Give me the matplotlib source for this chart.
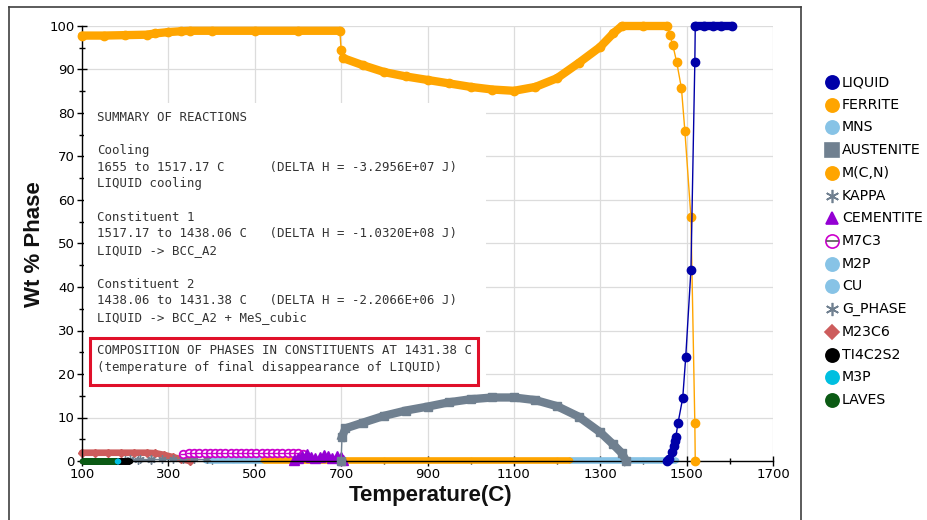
import numpy as np
import matplotlib
matplotlib.use("Agg")
import matplotlib.pyplot as plt
from matplotlib.lines import Line2D
from matplotlib.patches import Rectangle

# ---------------- data ----------------
ferrite_T = [100, 150, 200, 250, 270, 300, 330, 350, 400, 500, 600, 697,
             700, 705, 750, 800, 850, 900, 950, 1000, 1050, 1100,
             1150, 1200, 1250, 1300, 1330, 1350, 1400, 1455,
             1461, 1468, 1477, 1488, 1496, 1510, 1519, 1520]
ferrite_V = [97.8, 97.8, 97.9, 98.0, 98.3, 98.6, 98.8, 98.9, 98.9, 98.9, 98.9, 98.9,
             94.5, 92.6, 91.0, 89.4, 88.4, 87.6, 86.8, 86.0, 85.4, 85.1,
             86.0, 88.0, 91.5, 95.2, 98.3, 100.0, 100.0, 100.0,
             97.9, 95.6, 91.7, 85.7, 75.8, 56.0, 8.7, 0.0]

liquid_T = [1455, 1460, 1466, 1470, 1472, 1475, 1480, 1491, 1498, 1510, 1519,
            1520, 1540, 1560, 1580, 1605]
liquid_V = [0.0, 0.5, 2.0, 3.5, 4.5, 5.5, 8.7, 14.5, 24.0, 44.0, 91.7,
            100.0, 100.0, 100.0, 100.0, 100.0]

aust_T = [700, 702, 710, 750, 800, 850, 900, 950, 1000, 1050, 1100, 1150,
          1200, 1250, 1300, 1330, 1350, 1360]
aust_V = [0.0, 5.5, 7.5, 8.8, 10.4, 11.6, 12.5, 13.5, 14.2, 14.6, 14.6, 14.0,
          12.6, 10.2, 6.6, 3.8, 1.8, 0.0]

mcn_T = [520, 600, 700, 800, 900, 1000, 1100, 1200, 1230]
mcn_V = [0.15, 0.15, 0.15, 0.15, 0.15, 0.15, 0.15, 0.15, 0.15]

mns_T = [1228, 1300, 1400, 1475]
mns_V = [0.2, 0.2, 0.2, 0.2]

m2p_T = [385, 450, 520]
m2p_V = [0.2, 0.2, 0.2]

cem_T = [590, 600, 610, 620, 630, 640, 650, 660, 670, 680, 690, 700, 705]
cem_V = [0.3, 0.8, 1.2, 1.5, 1.0, 0.7, 0.9, 1.3, 1.1, 0.6, 1.2, 0.9, 0.2]

m7c3_T = [335, 348, 360, 372, 384, 396, 408, 420, 432, 444, 456, 468, 480,
          492, 504, 516, 528, 540, 552, 564, 576, 588, 600, 612]
m7c3_V = [1.5, 1.8, 1.9, 1.9, 1.9, 1.9, 1.9, 1.9, 1.9, 1.9, 1.9, 1.9, 1.9,
          1.9, 1.9, 1.9, 1.9, 1.9, 1.9, 1.9, 1.9, 1.8, 1.8, 1.6]

m23_T = [100, 130, 160, 190, 220, 250, 270, 290, 310, 330, 350]
m23_V = [1.9, 1.9, 1.9, 1.9, 1.9, 1.9, 1.8, 1.4, 0.9, 0.4, 0.0]

kappa_T = [210, 235, 260, 285, 310, 335, 360, 390]
kappa_V = [0.4, 0.4, 0.4, 0.4, 0.4, 0.4, 0.4, 0.4]

gphase_T = [200, 230, 260]
gphase_V = [0.3, 0.3, 0.3]

ti_T = [100, 150, 210]
ti_V = [0.0, 0.0, 0.0]

laves_T = [100, 140, 178]
laves_V = [0.0, 0.0, 0.0]

m3p_T = [180, 183]
m3p_V = [0.0, 0.0]

x_ticks = [100, 300, 500, 700, 900, 1100, 1300, 1500, 1700]
y_ticks = [0, 10, 20, 30, 40, 50, 60, 70, 80, 90, 100]

legend_names = ["LIQUID", "FERRITE", "MNS", "AUSTENITE", "M(C,N)", "KAPPA",
                "CEMENTITE", "M7C3", "M2P", "CU", "G_PHASE", "M23C6",
                "TI4C2S2", "M3P", "LAVES"]

summary_lines = [
    (0, "SUMMARY OF REACTIONS"),
    (2, "Cooling"),
    (3, "1655 to 1517.17 C      (DELTA H = -3.2956E+07 J)"),
    (4, "LIQUID cooling"),
    (6, "Constituent 1"),
    (7, "1517.17 to 1438.06 C   (DELTA H = -1.0320E+08 J)"),
    (8, "LIQUID -> BCC_A2"),
    (10, "Constituent 2"),
    (11, "1438.06 to 1431.38 C   (DELTA H = -2.2066E+06 J)"),
    (12, "LIQUID -> BCC_A2 + MeS_cubic"),
    (14, "COMPOSITION OF PHASES IN CONSTITUENTS AT 1431.38 C"),
    (15, "(temperature of final disappearance of LIQUID)"),
]

# ---------------- colours ----------------
C_LIQ = "#0000A8"
C_ORA = "#FFA500"
C_LB = "#87C3E6"
C_GRAY = "#708090"
C_PUR = "#9400D3"
C_MAG = "#CC00CC"
C_RED = "#CD5C5C"
C_CYAN = "#00BFE0"
C_GRN = "#0B5A14"

W, H = 927, 520
fig = plt.figure(figsize=(W / 100, H / 100), dpi=100)
plt.rcParams["font.family"] = ["DejaVu Sans"]


def fx(px):
    return px / W


def fy(py):
    return 1 - py / H


ax = fig.add_axes([fx(82), fy(461), fx(773) - fx(82), fy(26) - fy(461)])
ax.set_xlim(100, 1700)
ax.set_ylim(0, 100)


def draw(T, V, color, marker, ms, thick=(), lw_thick=5.0, lw_thin=1.0,
         mfc=None, z=3, cap="round", mew=1.0):
    T = np.asarray(T, float)
    V = np.asarray(V, float)
    ax.plot(T, V, color=color, lw=lw_thin, marker=marker, ms=ms,
            mfc=color if mfc is None else mfc, mec=color, mew=mew,
            zorder=z, clip_on=False)
    for lo, hi in thick:
        m = (T >= lo) & (T <= hi)
        ax.plot(T[m], V[m], color=color, lw=lw_thick, solid_capstyle=cap,
                zorder=z, clip_on=False)


# small phases near zero
draw(mns_T, mns_V, C_LB, "o", 3, thick=[(0, 2000)], lw_thick=4.8, z=2, cap="butt")
draw(m2p_T, m2p_V, C_LB, "o", 3, thick=[(0, 2000)], lw_thick=4.8, z=2, cap="butt")
draw(mcn_T, mcn_V, C_ORA, "o", 3, thick=[(0, 2000)], lw_thick=4.8, z=2.1, cap="butt")
draw(m23_T, m23_V, C_RED, "D", 4.5, thick=[(0, 2000)], lw_thick=4.8, z=2.2)
draw(kappa_T, kappa_V, C_GRAY, (6, 2, 0), 6, z=2.3)
draw(gphase_T, gphase_V, C_GRAY, (6, 2, 0), 6, z=2.3)
draw(m7c3_T, m7c3_V, C_MAG, "o", 5.5, mfc="white", lw_thin=1.0, z=2.4, mew=1.3)
draw(m7c3_T, m7c3_V, C_MAG, "_", 4, lw_thin=0, z=2.45)
draw(cem_T, cem_V, C_PUR, "^", 6.5, z=2.5)
draw(ti_T, ti_V, "black", "o", 3, thick=[(0, 2000)], lw_thick=5, z=2.6, cap="butt")
draw(laves_T, laves_V, C_GRN, "o", 3, thick=[(0, 2000)], lw_thick=5, z=2.7, cap="butt")
draw(m3p_T, m3p_V, C_CYAN, "o", 3, thick=[(0, 2000)], lw_thick=5, z=2.8, cap="butt")

# main phases
draw(aust_T, aust_V, C_GRAY, "s", 5.5, thick=[(702, 1360)], lw_thick=6, z=3,
     cap="projecting")
draw(ferrite_T, ferrite_V, C_ORA, "o", 6, thick=[(100, 697), (705, 1455)],
     lw_thick=6, z=4)
draw(liquid_T, liquid_V, C_LIQ, "o", 6, thick=[(1455, 1460), (1520, 1605)],
     lw_thick=6, z=5)

# axes styling
ax.set_xticks(x_ticks)
ax.set_xticks([200, 400, 600, 800, 1000, 1200, 1400, 1600], minor=True)
ax.set_yticks(y_ticks)
ax.set_yticks([5, 15, 25, 35, 45, 55, 65, 75, 85, 95], minor=True)
ax.tick_params(which="major", direction="inout", length=6.5, width=1,
               labelsize=9.5, pad=2, colors="black")
ax.tick_params(which="minor", direction="inout", length=4.5, width=1)
ax.grid(True, which="major", color="#DCDCDC", lw=0.9, zorder=0)
ax.set_axisbelow(True)
for s in ("top", "right"):
    ax.spines[s].set_visible(False)
for s in ("left", "bottom"):
    ax.spines[s].set_color("black")
    ax.spines[s].set_linewidth(1)

fig.text(fx(431), fy(496), "Temperature(C)", fontsize=16, fontweight="bold",
         family="Liberation Sans", ha="center", va="center", color="#111111")
fig.text(fx(35), fy(244), "Wt % Phase", fontsize=16, fontweight="bold",
         family="Liberation Sans", ha="center", va="center", rotation=90,
         color="#111111")

# white background of the summary text
fig.patches.append(Rectangle((fx(84), fy(387)), fx(486) - fx(84), fy(103) - fy(387),
                             transform=fig.transFigure, facecolor="white",
                             edgecolor="none", zorder=1.5))
for k, s in summary_lines:
    fig.text(fx(97), fy(117.3 + 16.67 * k), s, fontsize=8.9,
             family="DejaVu Sans Mono", color="#333333", ha="left", va="center",
             zorder=6)
fig.patches.append(Rectangle((fx(90), fy(385)), fx(478) - fx(90), fy(338) - fy(385),
                             transform=fig.transFigure, facecolor="none",
                             edgecolor="#E0102A", lw=2.2, zorder=6))

# outer frame
for xs, ys in [((9, 801), (7, 7)), ((9, 9), (7, 520)), ((801, 801), (7, 520))]:
    fig.add_artist(Line2D([fx(xs[0]), fx(xs[1])], [fy(ys[0]), fy(ys[1])],
                          transform=fig.transFigure, color="#404040", lw=1.2))

# legend (manual)
leg_style = {
    "LIQUID": dict(marker="o", color=C_LIQ),
    "FERRITE": dict(marker="o", color=C_ORA),
    "MNS": dict(marker="o", color=C_LB),
    "AUSTENITE": dict(marker="s", color=C_GRAY),
    "M(C,N)": dict(marker="o", color=C_ORA),
    "KAPPA": dict(marker=(6, 2, 0), color=C_GRAY),
    "CEMENTITE": dict(marker="^", color=C_PUR),
    "M7C3": dict(marker="o", color=C_MAG, mfc="white"),
    "M2P": dict(marker="o", color=C_LB),
    "CU": dict(marker="o", color=C_LB),
    "G_PHASE": dict(marker=(6, 2, 0), color=C_GRAY),
    "M23C6": dict(marker="D", color=C_RED),
    "TI4C2S2": dict(marker="o", color="black"),
    "M3P": dict(marker="o", color=C_CYAN),
    "LAVES": dict(marker="o", color=C_GRN),
}
for i, name in enumerate(legend_names):
    y = 82 + i * 22.72
    st = leg_style[name]
    ms = 9.5
    if st["marker"] == "D":
        ms = 7.5
    if st["marker"] == "^":
        ms = 9
    if st["marker"] == "s":
        ms = 9.5
    if name in ("KAPPA", "G_PHASE"):
        ms = 9.5
    fig.add_artist(Line2D([fx(832)], [fy(y)], transform=fig.transFigure,
                          marker=st["marker"], ms=ms, color=st["color"],
                          mfc=st.get("mfc", st["color"]), mec=st["color"],
                          mew=1.2, lw=0))
    if name == "M7C3":
        fig.add_artist(Line2D([fx(826.5), fx(837.5)], [fy(y), fy(y)],
                              transform=fig.transFigure, color="#555555", lw=1.2))
    fig.text(fx(842), fy(y), name, fontsize=10.2, ha="left", va="center",
             color="black")

fig.savefig("out.png", dpi=100)
